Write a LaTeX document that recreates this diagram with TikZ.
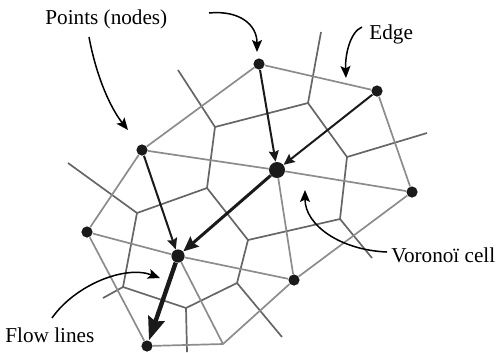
\documentclass[tikz,border=0pt]{standalone}
\usepackage{fontspec}
\setmainfont{Liberation Serif}
\usetikzlibrary{arrows.meta}
\definecolor{delLine}{HTML}{8C8C8C}
\definecolor{vorLine}{HTML}{666666}
\definecolor{siteFill}{HTML}{1A1A1A}
\tikzset{
  vorofig/.style={
    x=0.5bp, y=-0.5bp,
    every node/.append style={font=\fontsize{10.6bp}{12bp}\selectfont},
  },
  site/.style={circle, fill=siteFill, inner sep=0pt, minimum size=5.6bp},
  midsite/.style={site, minimum size=6.6bp},
  bigsite/.style={site, minimum size=8bp},
  % Triangulation light, cell borders a bit darker.
  dlink/.style={draw=delLine, line width=0.85bp},
  vedge/.style={draw=vorLine, line width=0.85bp},
  flow/.style={draw=siteFill, line width=1bp, -{Stealth[length=5.5bp, width=5bp, inset=0.8bp]}},
  flowmid/.style={draw=siteFill, line width=1.5bp, -{Stealth[length=7.5bp, width=6.5bp, inset=1bp]}},
  flowbig/.style={draw=siteFill, line width=2.2bp, -{Stealth[length=11.5bp, width=8.5bp, inset=1.5bp]}},
  note/.style={draw=black, line width=0.75bp, -{Stealth[length=6bp, width=5bp, inset=1.2bp]}},
  notetext/.style={anchor=base west, inner sep=0pt},
}

\begin{document}
\begin{tikzpicture}[vorofig]
  \useasboundingbox (0,0) rectangle (496,352);
  % cell corners and free ends
  \coordinate (Va) at (215,127);
  \coordinate (Vb) at (308,103);
  \coordinate (Vc) at (347,157);
  \coordinate (Vd) at (137,213);
  \coordinate (Ve) at (123,287);
  \coordinate (Vf) at (186,308);
  \coordinate (Vg) at (207,188);
  \coordinate (Vh) at (248,240);
  \coordinate (Vi) at (237,283);
  \coordinate (Vk) at (340,219);
  \coordinate (Fa) at (178,70);
  \coordinate (Fb) at (321,32);
  \coordinate (Fc) at (427,133);
  \coordinate (Fd) at (372,258);
  \coordinate (Fe) at (282,337);
  \coordinate (Ff) at (187,352);
  \coordinate (Fg) at (103,298);
  \coordinate (Fh) at (68,163);
  \coordinate (Junct) at (223,344);
  \draw[vedge] (Fa) -- (Va);
  \draw[vedge] (Va) -- (Vb);
  \draw[vedge] (Va) -- (Vg);
  \draw[vedge] (Vb) -- (Fb);
  \draw[vedge] (Vb) -- (Vc);
  \draw[vedge] (Vc) -- (Fc);
  \draw[vedge] (Vc) -- (Vk);
  \draw[vedge] (Vk) -- (Fd);
  \draw[vedge] (Vk) -- (Vh);
  \draw[vedge] (Vh) -- (Vg);
  \draw[vedge] (Vh) -- (Vi);
  \draw[vedge] (Vi) -- (Fe);
  \draw[vedge] (Vi) -- (Vf);
  \draw[vedge] (Vf) -- (Ff);
  \draw[vedge] (Vf) -- (Ve);
  \draw[vedge] (Ve) -- (Fg);
  \draw[vedge] (Ve) -- (Vd);
  \draw[vedge] (Vd) -- (Fh);
  \draw[vedge] (Vd) -- (Vg);
  % sites
  \node[site] (TopPt) at (259,64) {};
  \node[site] (RightTopPt) at (377,91) {};
  \node[site] (LeftPt) at (142,150) {};
  \node[bigsite] (CentrePt) at (277,170) {};
  \node[site] (RightPt) at (412,192) {};
  \node[site] (FarLeftPt) at (87,232) {};
  \node[midsite] (LowerPt) at (178,256) {};
  \node[site] (LowRightPt) at (294,280) {};
  \node[site] (BottomPt) at (147,346) {};
  \draw[dlink] (TopPt) -- (RightTopPt);
  \draw[dlink] (TopPt) -- (LeftPt);
  \draw[dlink] (RightTopPt) -- (RightPt);
  \draw[dlink] (LeftPt) -- (CentrePt);
  \draw[dlink] (LeftPt) -- (FarLeftPt);
  \draw[dlink] (CentrePt) -- (RightPt);
  \draw[dlink] (CentrePt) -- (LowRightPt);
  \draw[dlink] (RightPt) -- (LowRightPt);
  \draw[dlink] (FarLeftPt) -- (LowerPt);
  \draw[dlink] (FarLeftPt) -- (BottomPt);
  \draw[dlink] (LowerPt) -- (LowRightPt);
  \draw[dlink] (LowerPt) -- (Junct);
  \draw[dlink] (BottomPt) -- (Junct) -- (LowRightPt);
  % flow lines
  \draw[flow] (TopPt) -- (CentrePt);
  \draw[flow] (RightTopPt) -- (CentrePt);
  \draw[flow] (LeftPt) -- (LowerPt);
  \draw[flowmid] (CentrePt) -- (LowerPt);
  \draw[flowbig] (LowerPt) -- (BottomPt);
  % annotations
  \node[notetext] (PointsLbl) at (45,24) {Points (nodes)};
  \node[notetext] (EdgeLbl) at (369,39) {Edge};
  \node[notetext] (CellLbl) at (391,262) {Vorono\"{\i} cell};
  \node[notetext] (FlowLbl) at (5,342) {Flow lines};
  \coordinate (PtsFrom) at (89,37);
  \coordinate (PtsTo) at (128,130);
  \coordinate (TopFrom) at (209,13);
  \coordinate (TopTo) at (257,52);
  \coordinate (EdgeFrom) at (362,27);
  \coordinate (EdgeTo) at (346,78);
  \coordinate (CellFrom) at (387,252);
  \coordinate (CellTo) at (305,190);
  \coordinate (FlowFrom) at (52,318);
  \coordinate (FlowTo) at (160,278);
  \draw[note] (PtsFrom) .. controls (97,80) and (112,110) .. (PtsTo);
  \draw[note] (TopFrom) .. controls (240,10) and (257,25) .. (TopTo);
  \draw[note] (EdgeFrom) .. controls (350,32) and (345,55) .. (EdgeTo);
  \draw[note] (CellFrom) .. controls (340,250) and (305,225) .. (CellTo);
  \draw[note] (FlowFrom) .. controls (75,285) and (125,265) .. (FlowTo);
\end{tikzpicture}
\end{document}
